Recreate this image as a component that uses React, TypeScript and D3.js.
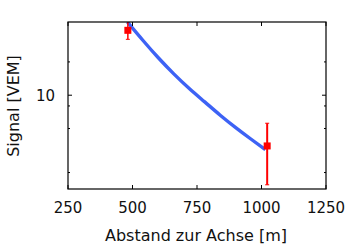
import React from "react";
import * as d3 from "d3";

const curveDist = [480, 540, 600, 660, 720, 780, 840, 900, 960, 1015];
const curveSignal = [46, 31.4, 21.8, 15.6, 11.5, 8.7, 6.6, 5.1, 4.0, 3.22];

const pointDist = [482, 1022];
const pointSignal = [38.6, 3.48];
const pointLow = [32.0, 1.55];
const pointHigh = [46.5, 5.58];

const xTicks = [250, 500, 750, 1000, 1250];
const yMajorTicks = [10];
const yMinorTicks = [2, 5, 8, 20];

const W = 360;
const H = 250;
const L = 68;
const R = 326;
const T = 22;
const B = 189;

export default function App() {
  const x = d3.scaleLinear().domain([250, 1250]).range([L, R]);
  const y = d3.scaleLog().domain([1.42, 45.9]).range([B, T]);
  const pts = curveDist.map((d, i) => [d, curveSignal[i]] as [number, number]);
  const line = d3
    .line<[number, number]>()
    .x((d) => x(d[0]))
    .y((d) => y(d[1]))
    .curve(d3.curveNatural);
  const font = "'DejaVu Sans', sans-serif";
  return (
    <svg
      width={W}
      height={H}
      style={{ position: "absolute", left: 0, top: 0, background: "#fff" }}
    >
      <defs>
        <clipPath id="plot">
          <rect x={L} y={T} width={R - L} height={B - T} />
        </clipPath>
      </defs>
      <rect x={0} y={0} width={W} height={H} fill="#fff" />
      <g clipPath="url(#plot)">
        <path d={line(pts) || ""} fill="none" stroke="#3d62f5" strokeWidth={3.4} />
        {pointDist.map((d, i) => (
          <g key={i}>
            <line
              x1={x(d)}
              x2={x(d)}
              y1={y(pointLow[i])}
              y2={y(pointHigh[i])}
              stroke="#ff0000"
              strokeWidth={i === 1 ? 2 : 1.5}
            />
            <line
              x1={x(d) - 2}
              x2={x(d) + 2}
              y1={y(pointLow[i])}
              y2={y(pointLow[i])}
              stroke="#ff0000"
              strokeWidth={1}
            />
            <line
              x1={x(d) - 2}
              x2={x(d) + 2}
              y1={y(pointHigh[i])}
              y2={y(pointHigh[i])}
              stroke="#ff0000"
              strokeWidth={1}
            />
            <rect
              x={x(d) - 3.5}
              y={y(pointSignal[i]) - 3.5}
              width={7}
              height={7}
              fill="#ff0000"
            />
          </g>
        ))}
      </g>
      {xTicks.map((t) => (
        <g key={t}>
          <line x1={x(t)} x2={x(t)} y1={B} y2={B - 4} stroke="#000" />
          <line x1={x(t)} x2={x(t)} y1={T} y2={T + 4} stroke="#000" />
          <text
            x={x(t)}
            y={213}
            textAnchor="middle"
            fontFamily={font}
            fontSize={15}
            fill="#111"
          >
            {t}
          </text>
        </g>
      ))}
      {yMajorTicks.map((t) => (
        <g key={t}>
          <line x1={L} x2={L + 4} y1={y(t)} y2={y(t)} stroke="#000" />
          <line x1={R} x2={R - 4} y1={y(t)} y2={y(t)} stroke="#000" />
          <text
            x={55}
            y={y(t) + 5.5}
            textAnchor="end"
            fontFamily={font}
            fontSize={15}
            fill="#111"
          >
            {t}
          </text>
        </g>
      ))}
      {yMinorTicks.map((t) => (
        <g key={t}>
          <line x1={L} x2={L + 2} y1={y(t)} y2={y(t)} stroke="#000" />
          <line x1={R} x2={R - 2} y1={y(t)} y2={y(t)} stroke="#000" />
        </g>
      ))}
      <rect x={L} y={T} width={R - L} height={B - T} fill="none" stroke="#000" strokeWidth={1.2} />
      <text
        x={196}
        y={241}
        textAnchor="middle"
        fontFamily={font}
        fontSize={16}
        fill="#111"
      >
        Abstand zur Achse [m]
      </text>
      <text
        transform={`translate(19, 106) rotate(-90)`}
        textAnchor="middle"
        fontFamily={font}
        fontSize={16}
        fill="#111"
      >
        Signal [VEM]
      </text>
    </svg>
  );
}
